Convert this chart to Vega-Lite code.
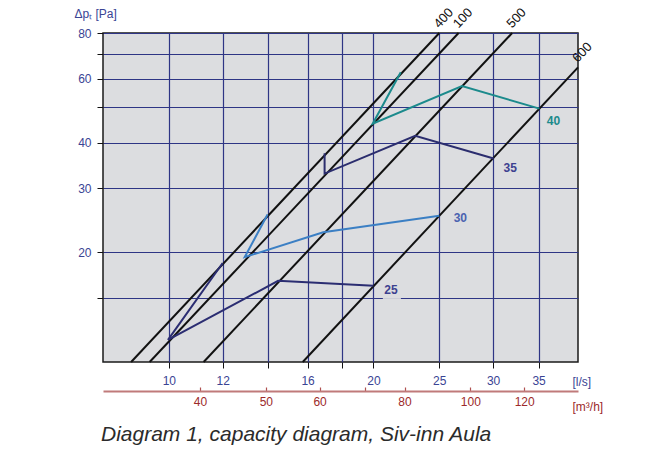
{
  "$schema": "https://vega.github.io/schema/vega-lite/v6.json",
  "width": 475,
  "height": 329,
  "autosize": "none",
  "padding": {"left": 103, "top": 33, "right": 83, "bottom": 92},
  "background": "white",
  "config": {
    "view": {"fill": "#dcdde0", "stroke": "#1a1a1a", "strokeWidth": 1.5},
    "font": "Liberation Sans"
  },
  "title": {
    "text": "Diagram 1, capacity diagram, Siv-inn Aula",
    "orient": "bottom",
    "anchor": "start",
    "frame": "group",
    "font": "Liberation Sans",
    "fontStyle": "italic",
    "fontWeight": "normal",
    "fontSize": 21,
    "color": "#2b2b2b",
    "offset": 12,
    "dx": -2
  },
  "datasets": {
    "black": [
      {"s": "400", "o": 1, "q": 8.80, "p": 10},
      {"s": "400", "o": 2, "q": 25.0, "p": 80},
      {"s": "100", "o": 1, "q": 9.37, "p": 10},
      {"s": "100", "o": 2, "q": 26.69, "p": 80},
      {"s": "500", "o": 1, "q": 11.25, "p": 10},
      {"s": "500", "o": 2, "q": 32.0, "p": 80},
      {"s": "600", "o": 1, "q": 15.74, "p": 10},
      {"s": "600", "o": 2, "q": 40.0, "p": 64.4}
    ],
    "blabels": [
      {"s": "400", "q": 25.0, "p": 80},
      {"s": "100", "q": 26.69, "p": 80},
      {"s": "500", "q": 32.0, "p": 80},
      {"s": "600", "q": 40.0, "p": 64.4}
    ],
    "colored": [
      {"s": "25", "o": 1, "q": 12.0, "p": 18.7},
      {"s": "25", "o": 2, "q": 9.97, "p": 11.5},
      {"s": "25", "o": 3, "q": 14.48, "p": 16.7},
      {"s": "25", "o": 4, "q": 20.0, "p": 16.2},
      {"s": "30", "o": 1, "q": 13.97, "p": 25.4},
      {"s": "30", "o": 2, "q": 12.93, "p": 19.4},
      {"s": "30", "o": 3, "q": 16.87, "p": 22.7},
      {"s": "30", "o": 4, "q": 25.0, "p": 25.2},
      {"s": "35", "o": 1, "q": 16.95, "p": 37.4},
      {"s": "35", "o": 2, "q": 16.95, "p": 32.9},
      {"s": "35", "o": 3, "q": 23.04, "p": 41.75},
      {"s": "35", "o": 4, "q": 30.06, "p": 36.2},
      {"s": "40", "o": 1, "q": 21.94, "p": 62.4},
      {"s": "40", "o": 2, "q": 19.95, "p": 45.1},
      {"s": "40", "o": 3, "q": 27.0, "p": 57.2},
      {"s": "40", "o": 4, "q": 35.1, "p": 49.6}
    ],
    "clabels": [
      {"s": "25", "q": 21.23, "p": 15.75},
      {"s": "30", "q": 26.85, "p": 24.8},
      {"s": "35", "q": 31.8, "p": 34.0},
      {"s": "40", "q": 36.8, "p": 45.9}
    ],
    "gap": [
      {"q": 20.65, "q2": 21.95, "p": 14.9, "p2": 15.2}
    ],
    "m3h": [
      {"m": 40}
    ]
  },
  "layer": [
    {
      "encoding": {
        "x": {
          "field": "q",
          "type": "quantitative",
          "scale": {"type": "log", "domain": [8, 40], "nice": false},
          "axis": {
            "title": "[l/s]",
            "titleX": 469,
            "titleY": 19,
            "titleAlign": "left",
            "titleBaseline": "middle",
            "titleFontWeight": "normal",
            "titleFontSize": 12,
            "titleColor": "#3a4494",
            "values": [10, 12, 14, 16, 18, 20, 25, 30, 35],
            "format": "d",
            "labelExpr": "datum.value == 14 || datum.value == 18 ? '' : datum.label",
            "labelColor": "#3a4494",
            "labelFontSize": 12,
            "labelPadding": 7,
            "labelFlush": false,
            "labelOverlap": false,
            "labelBound": false,
            "tickSize": 6,
            "tickColor": "#111111",
            "domain": false,
            "grid": true,
            "gridColor": "#2e3585",
            "gridWidth": 1.2,
            "gridOpacity": 1
          }
        },
        "y": {
          "field": "p",
          "type": "quantitative",
          "scale": {"type": "log", "domain": [10, 80], "nice": false},
          "axis": {
            "title": "Δpₜ [Pa]",
            "titleAngle": 0,
            "titleX": -29,
            "titleY": -20,
            "titleAlign": "left",
            "titleBaseline": "middle",
            "titleFontWeight": "normal",
            "titleFontSize": 12,
            "titleColor": "#3a4494",
            "values": [15, 20, 30, 40, 50, 60, 70, 80],
            "format": "d",
            "labelExpr": "datum.value == 15 || datum.value == 50 || datum.value == 70 ? '' : datum.label",
            "labelColor": "#3a4494",
            "labelFontSize": 12,
            "labelPadding": 6,
            "labelFlush": false,
            "labelOverlap": false,
            "labelBound": false,
            "tickSize": 6,
            "tickColor": "#111111",
            "domain": false,
            "grid": true,
            "gridColor": "#2e3585",
            "gridWidth": 1.2,
            "gridOpacity": 1
          }
        }
      },
      "layer": [
        {
          "data": {"name": "gap"},
          "mark": {"type": "rect", "fill": "#dcdde0"},
          "encoding": {
            "x2": {"field": "q2"},
            "y2": {"field": "p2"}
          }
        },
        {
          "data": {"name": "black"},
          "mark": {"type": "line", "color": "#111111", "strokeWidth": 2},
          "encoding": {
            "detail": {"field": "s", "type": "nominal"},
            "order": {"field": "o", "type": "quantitative"}
          }
        },
        {
          "data": {"name": "colored"},
          "mark": {"type": "line", "strokeWidth": 2},
          "encoding": {
            "stroke": {
              "field": "s",
              "type": "nominal",
              "scale": {"domain": ["25", "30", "35", "40"], "range": ["#2b2d72", "#3b7fc4", "#2b2d6e", "#1b8a8c"]},
              "legend": null
            },
            "order": {"field": "o", "type": "quantitative"}
          }
        },
        {
          "data": {"name": "clabels"},
          "mark": {"type": "text", "fontSize": 12, "fontWeight": "bold", "align": "center", "baseline": "middle"},
          "encoding": {
            "text": {"field": "s"},
            "fill": {
              "field": "s",
              "type": "nominal",
              "scale": {"domain": ["25", "30", "35", "40"], "range": ["#3c4190", "#4a62b0", "#3c4190", "#1b8a8c"]},
              "legend": null
            }
          }
        },
        {
          "data": {"name": "blabels"},
          "mark": {"type": "text", "fontSize": 13, "align": "left", "baseline": "alphabetic", "angle": -47, "dx": 3, "dy": -3, "fill": "#111111"},
          "encoding": {
            "text": {"field": "s"}
          }
        }
      ]
    },
    {
      "data": {"name": "m3h"},
      "mark": {"type": "point", "opacity": 0},
      "encoding": {
        "x": {
          "field": "m",
          "type": "quantitative",
          "scale": {"type": "log", "domain": [28.8, 144], "nice": false},
          "axis": {
            "orient": "bottom",
            "offset": 29,
            "values": [40, 50, 60, 70, 80, 100, 120],
            "format": "d",
            "labelExpr": "datum.value == 70 ? '' : datum.label",
            "domainColor": "#c07a7a",
            "domainWidth": 2,
            "tickColor": "#b05050",
            "tickSize": -4,
            "tickWidth": 1.2,
            "labelColor": "#9c2a2a",
            "labelFontSize": 12,
            "labelPadding": 9,
            "labelFlush": false,
            "labelOverlap": false,
            "grid": false,
            "title": "[m³/h]",
            "titleX": 469,
            "titleY": 15,
            "titleAlign": "left",
            "titleBaseline": "middle",
            "titleColor": "#9c2a2a",
            "titleFontSize": 12,
            "titleFontWeight": "normal"
          }
        }
      }
    }
  ],
  "resolve": {"scale": {"x": "independent"}, "axis": {"x": "independent"}}
}
